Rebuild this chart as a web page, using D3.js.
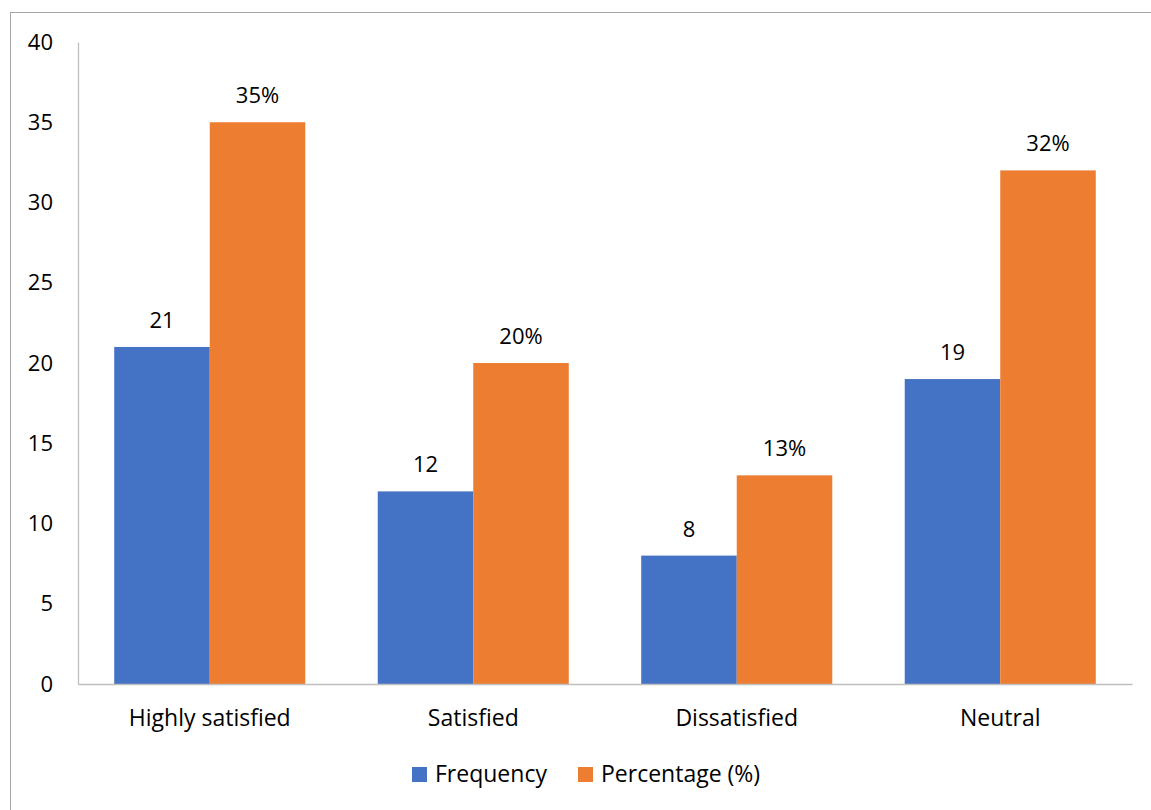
<!DOCTYPE html>
<html><head><meta charset="utf-8">
<script src="https://cdn.jsdelivr.net/npm/d3@7"></script>
<style>body{margin:0;background:#fff}svg{display:block}</style>
</head><body>
<svg id="c" width="1151" height="810"></svg>
<script>
const categories = ["Highly satisfied", "Satisfied", "Dissatisfied", "Neutral"];
const frequency = [21, 12, 8, 19];
const percentage = [35, 20, 13, 32];
const percentLabels = ["35%", "20%", "13%", "32%"];
const yTicks = [0, 5, 10, 15, 20, 25, 30, 35, 40];
const seriesNames = ["Frequency", "Percentage (%)"];
const colors = ["#4472C4", "#ED7D31"];

(function () {
const FONT = "'Open Sans', sans-serif";
const FS = 22, FS2 = 23;
const svg = d3.select("#c");

// outer border
svg.append("rect").attr("x", 10.5).attr("y", 12.5).attr("width", 1200).attr("height", 900)
  .attr("fill", "none").attr("stroke", "#a6a6a6").attr("stroke-width", 1);

const pLeft = 78, pRight = 1132, pTop = 42, pBottom = 684;
const x0 = d3.scaleBand().domain(categories).range([pLeft, pRight]).paddingInner(0.275).paddingOuter(0.1375);
const x1 = d3.scaleBand().domain(seriesNames).range([0, x0.bandwidth()]);
const y = d3.scaleLinear().domain([0, 40]).range([pBottom, pTop]);

// bars
const rows = categories.map((c, i) => ({c, vals: [
  {s: seriesNames[0], v: frequency[i], label: String(frequency[i])},
  {s: seriesNames[1], v: percentage[i], label: percentLabels[i]}
]}));
const g = svg.append("g");
const grp = g.selectAll("g.cat").data(rows).join("g").attr("class", "cat").attr("transform", d => `translate(${x0(d.c)},0)`);
grp.selectAll("rect").data(d => d.vals).join("rect")
  .attr("x", d => x1(d.s)).attr("width", x1.bandwidth())
  .attr("y", d => y(d.v)).attr("height", d => y(0) - y(d.v))
  .attr("fill", (d, i) => colors[i]);
grp.selectAll("text").data(d => d.vals).join("text")
  .attr("x", d => x1(d.s) + x1.bandwidth() / 2).attr("y", d => y(d.v) - 19)
  .attr("text-anchor", "middle").attr("font-family", FONT).attr("font-size", FS).attr("fill", "#000")
  .text(d => d.label);

// y axis
const yAxis = d3.axisLeft(y).tickValues(yTicks).tickSize(0).tickPadding(25);
const ya = svg.append("g").attr("transform", `translate(${pLeft},0)`).call(yAxis);
ya.select(".domain").attr("stroke", "#bfbfbf").attr("stroke-width", 1.3);
ya.selectAll("text").attr("font-family", FONT).attr("font-size", FS).attr("fill", "#000");

// x axis
const xAxis = d3.axisBottom(x0).tickSize(0).tickPadding(26).tickSizeOuter(0);
const xa = svg.append("g").attr("transform", `translate(0,${pBottom})`).call(xAxis);
xa.select(".domain").attr("stroke", "#bfbfbf").attr("stroke-width", 1.3);
xa.selectAll("text").attr("font-family", FONT).attr("font-size", FS2).attr("fill", "#000");

// legend
const legend = svg.append("g");
const legX = [412, 578];
seriesNames.forEach((s, i) => {
  legend.append("rect").attr("x", legX[i]).attr("y", 767).attr("width", 15).attr("height", 15).attr("fill", colors[i]);
  legend.append("text").attr("x", legX[i] + 23).attr("y", 782).attr("font-family", FONT).attr("font-size", FS2).attr("fill", "#000").text(s);
});
})();
</script>
</body></html>
